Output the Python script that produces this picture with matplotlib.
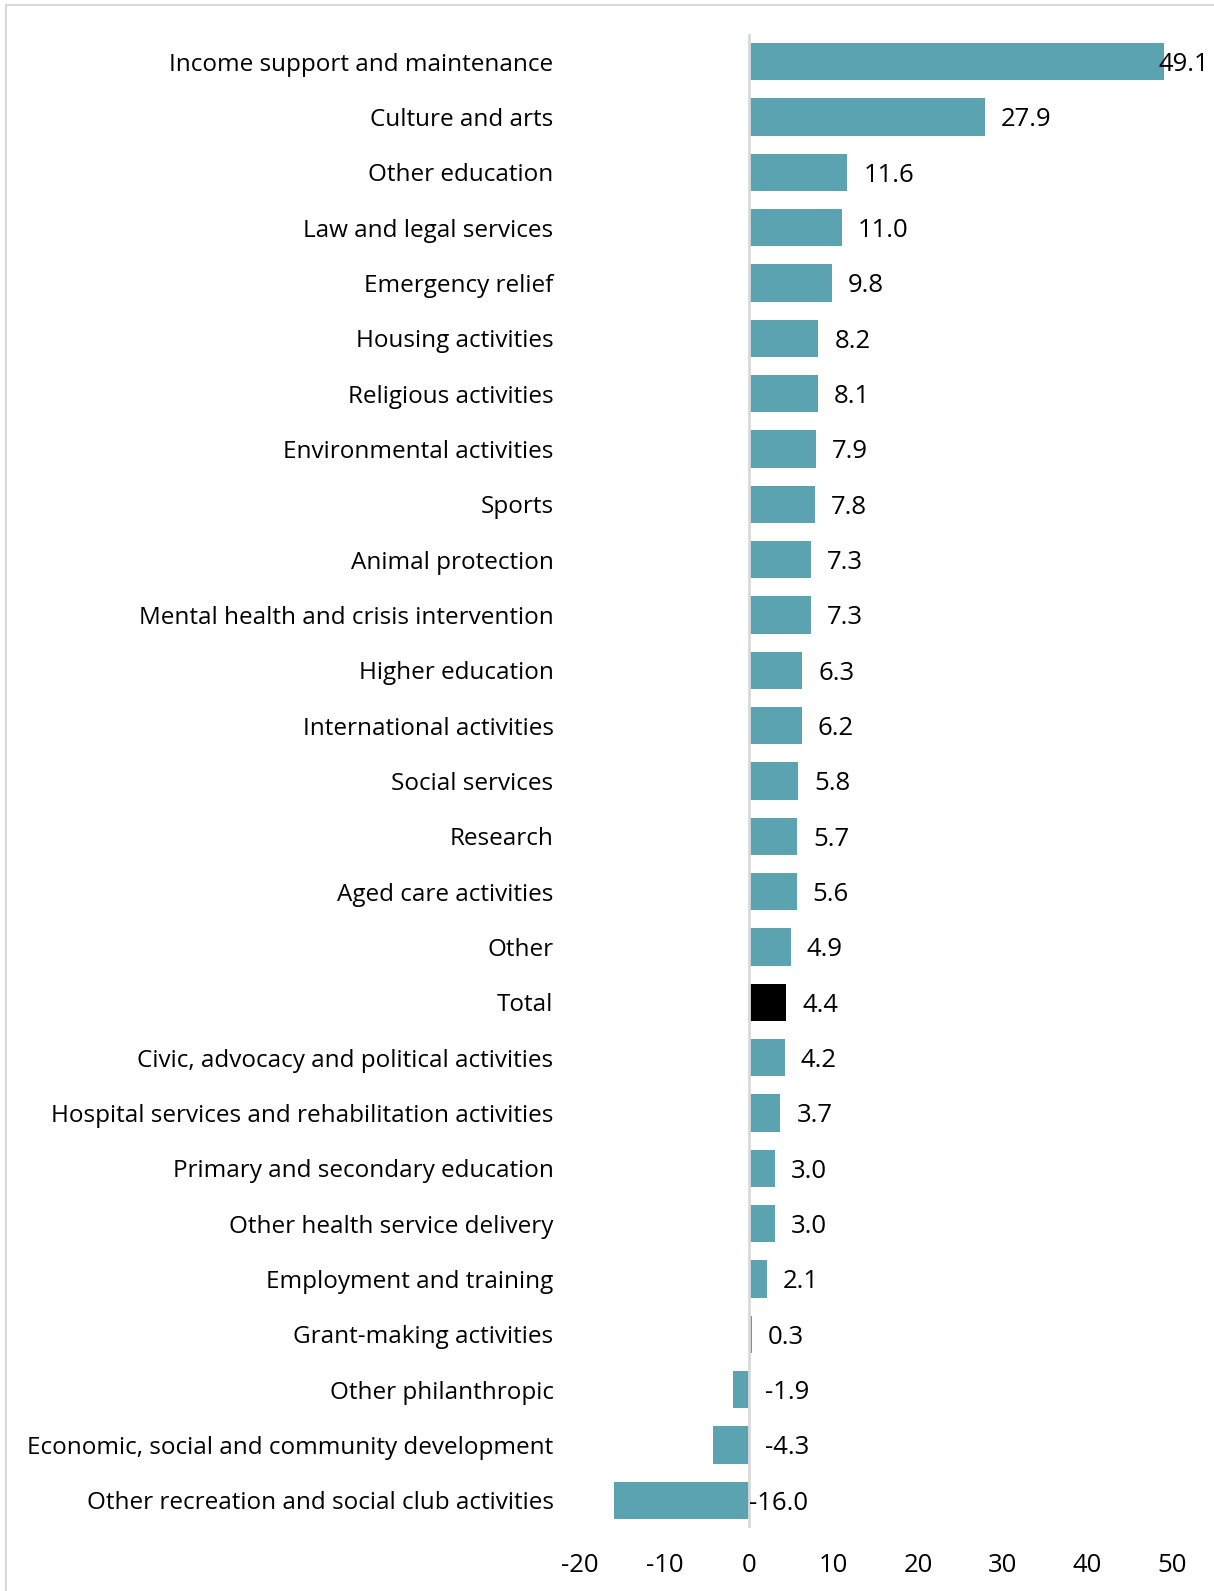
import matplotlib.pyplot as plt
from matplotlib.lines import Line2D

plt.rcParams['font.family'] = ['Open Sans', 'DejaVu Sans']

categories = [
    "Income support and maintenance",
    "Culture and arts",
    "Other education",
    "Law and legal services",
    "Emergency relief",
    "Housing activities",
    "Religious activities",
    "Environmental activities",
    "Sports",
    "Animal protection",
    "Mental health and crisis intervention",
    "Higher education",
    "International activities",
    "Social services",
    "Research",
    "Aged care activities",
    "Other",
    "Total",
    "Civic, advocacy and political activities",
    "Hospital services and rehabilitation activities",
    "Primary and secondary education",
    "Other health service delivery",
    "Employment and training",
    "Grant-making activities",
    "Other philanthropic",
    "Economic, social and community development",
    "Other recreation and social club activities",
]
values = [49.1, 27.9, 11.6, 11.0, 9.8, 8.2, 8.1, 7.9, 7.8, 7.3, 7.3, 6.3, 6.2,
          5.8, 5.7, 5.6, 4.9, 4.4, 4.2, 3.7, 3.0, 3.0, 2.1, 0.3, -1.9, -4.3, -16.0]
x_ticks = [-20, -10, 0, 10, 20, 30, 40, 50]

teal = "#5BA3B0"
colors = ["#000000" if c == "Total" else teal for c in categories]

# Excel squeezes a couple of labels to stay inside the chart
label_nudge = {"Income support and maintenance": -22,
               "Other recreation and social club activities": -16}

fig = plt.figure(figsize=(12.14, 15.91), dpi=100)
ax = fig.add_axes([580 / 1214, 1 - 1528 / 1591, 592 / 1214, 1494 / 1591])

y = list(range(len(categories)))
ax.barh(y, values, height=0.67, color=colors, zorder=2)
ax.axvline(0, color="#D9D9D9", lw=2, zorder=3)

for yi, c, v in zip(y, categories, values):
    off = 16 + label_nudge.get(c, 0)
    ax.annotate(f"{v:.1f}", xy=(max(v, 0), yi), xytext=(off * 0.72, -2),
                textcoords="offset points", ha="left", va="center",
                fontsize=18.5, color="#000000", zorder=4)

ax.set_xlim(-20, 50)
ax.set_ylim(len(categories) - 0.5, -0.5)
ax.set_xticks(x_ticks)
ax.set_xticklabels([str(t) for t in x_ticks])
ax.set_yticks(y)
ax.set_yticklabels(categories, fontsize=17.5)
ax.tick_params(axis="both", length=0)
ax.tick_params(axis="x", labelsize=18.5, pad=18)
ax.tick_params(axis="y", pad=19)
for s in ax.spines.values():
    s.set_visible(False)

# chart frame (top and left edges visible)
fig.add_artist(Line2D([6 / 1214, 1], [1 - 5 / 1591, 1 - 5 / 1591],
                      transform=fig.transFigure, color="#D9D9D9", lw=1.5))
fig.add_artist(Line2D([6 / 1214, 6 / 1214], [0, 1 - 5 / 1591],
                      transform=fig.transFigure, color="#D9D9D9", lw=1.5))

fig.savefig("out.png", dpi=100)
